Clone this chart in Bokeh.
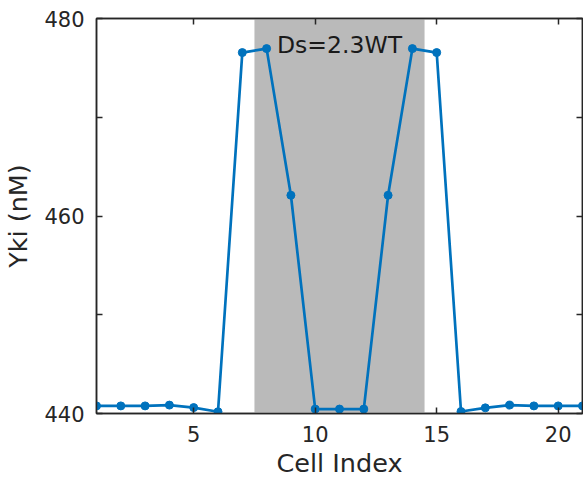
from bokeh.plotting import figure
from bokeh.models import FixedTicker, LinearAxis, Range1d, BoxAnnotation
from bokeh.core.properties import value
from bokeh.embed import file_html
from bokeh.resources import INLINE

cell_index = list(range(1, 22))
yki = [440.77, 440.77, 440.77, 440.85, 440.6, 440.18, 476.55, 476.95, 462.1,
       440.45, 440.45, 440.45, 462.1, 476.95, 476.55, 440.2, 440.57, 440.85,
       440.77, 440.77, 440.77]
shade_left = 7.5
shade_right = 14.5
label_text = "Ds=2.3WT"
x_ticks = [5, 10, 15, 20]
y_ticks = [440, 450, 460, 470, 480]
y_tick_labels = {440: "440", 450: "", 460: "460", 470: "", 480: "480"}

FONT = "DejaVu Sans"
AX = "#262626"
BLUE = "#0072BD"

p = figure(frame_width=486, frame_height=395, output_backend="svg",
           toolbar_location=None, x_range=Range1d(1, 21), y_range=Range1d(440, 480),
           min_border_left=88, min_border_top=18, min_border_right=1, min_border_bottom=56)
p.background_fill_color = "white"
p.outline_line_color = AX
p.outline_line_width = 1.5
p.xgrid.visible = False
p.ygrid.visible = False

p.add_layout(BoxAnnotation(left=shade_left, right=shade_right, fill_color="#bababa",
                           fill_alpha=1.0, line_color=None, level="underlay"))

p.line(cell_index, yki, line_color=BLUE, line_width=2.7)
p.scatter(cell_index, yki, size=8, fill_color=BLUE, line_color=BLUE)

p.text(x=[11], y=[477.3], text=[label_text], text_font=value(FONT),
       text_font_size="23.5px", text_align="center", text_baseline="alphabetic",
       text_color="#1a1a1a")

def style(ax):
    ax.axis_line_color = AX
    ax.axis_line_width = 1.5
    ax.major_tick_line_color = AX
    ax.major_tick_line_width = 1.5
    ax.major_tick_in = 6
    ax.major_tick_out = 0
    ax.minor_tick_line_color = None
    ax.major_label_text_font = FONT
    ax.major_label_text_font_size = "21px"
    ax.major_label_text_color = AX
    ax.axis_label_text_font = FONT
    ax.axis_label_text_font_size = "25.5px"
    ax.axis_label_text_font_style = "normal"
    ax.axis_label_text_color = AX

xa = p.xaxis[0]
style(xa)
xa.ticker = FixedTicker(ticks=x_ticks)
xa.axis_label = "Cell Index"
xa.major_label_standoff = 12
xa.axis_label_standoff = 3

ya = p.yaxis[0]
style(ya)
ya.ticker = FixedTicker(ticks=y_ticks)
ya.major_label_overrides = y_tick_labels
ya.axis_label = "Yki (nM)"
ya.major_label_standoff = 12
ya.axis_label_standoff = 8

top = LinearAxis(ticker=FixedTicker(ticks=x_ticks))
style(top)
top.major_label_text_font_size = "0px"
top.major_label_standoff = 0
top.major_label_overrides = {t: "" for t in x_ticks}
p.add_layout(top, "above")

right = LinearAxis(ticker=FixedTicker(ticks=y_ticks))
style(right)
right.major_label_text_font_size = "0px"
right.major_label_standoff = 0
right.major_label_overrides = {t: "" for t in y_ticks}
p.add_layout(right, "right")

open("out.html", "w").write(file_html(p, INLINE))
